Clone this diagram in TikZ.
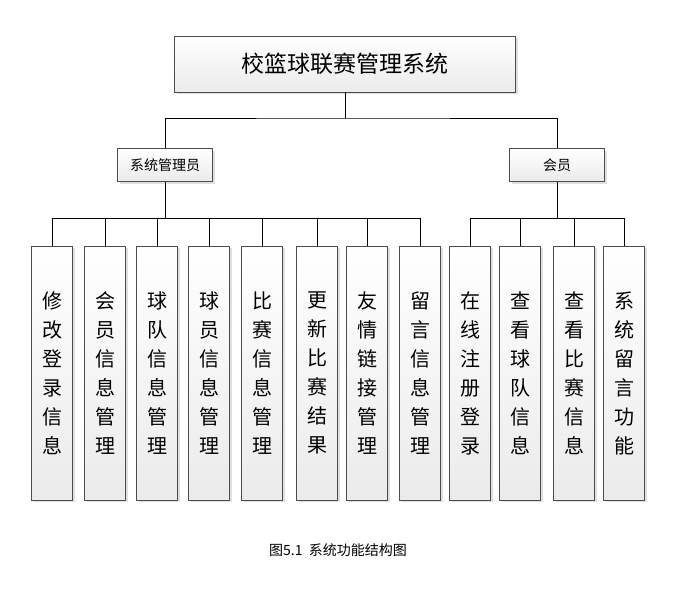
\documentclass[tikz,border=0pt]{standalone}
\usepackage{fontspec}
\setmainfont{Liberation Serif}
\newfontfamily\cjk{Noto Sans CJK SC}
\usetikzlibrary{positioning,shadows}
\begin{document}
\begin{tikzpicture}[x=1pt,y=-1pt,
		box/.style={rectangle,draw=black!70,thick,top color=white,bottom color=black!8,
			drop shadow={shadow xshift=2pt,shadow yshift=-2pt,fill=black!25},font=\cjk},
		leaf/.style={box,minimum width=41pt,minimum height=254pt,inner sep=0pt,
			align=center,font=\cjk\fontsize{20}{29}\selectfont},
		line/.style={black,semithick}]
		\useasboundingbox (0,0) rectangle (675,590);
		
		\node[box,minimum width=341pt,minimum height=56pt,font=\cjk\fontsize{23}{26}\selectfont] (root) at (345,64) {校篮球联赛管理系统};
		\node[box,minimum width=95pt,minimum height=33pt,font=\cjk\fontsize{14}{16}\selectfont] (admin) at (165,165) {系统管理员};
		\node[box,minimum width=95pt,minimum height=33pt,font=\cjk\fontsize{14}{16}\selectfont] (member) at (557,165) {会员};
		
		% leaves
		\foreach \x/\t/\n in {52/修\\改\\登\\录\\信\\息/a1, 105/会\\员\\信\\息\\管\\理/a2,
			157/球\\队\\信\\息\\管\\理/a3, 209/球\\员\\信\\息\\管\\理/a4,
			262/比\\赛\\信\\息\\管\\理/a5, 317/更\\新\\比\\赛\\结\\果/a6,
			367/友\\情\\链\\接\\管\\理/a7, 420/留\\言\\信\\息\\管\\理/a8,
			470/在\\线\\注\\册\\登\\录/b1, 520/查\\看\\球\\队\\信\\息/b2,
			574/查\\看\\比\\赛\\信\\息/b3, 624/系\\统\\留\\言\\功\\能/b4}
		\node[leaf] (\n) at (\x,373) {\t};
		
		\coordinate (top bar) at (345,118);
		\draw[line] (root.south) -- (top bar);
		\draw[line] (admin.north) |- (top bar) -| (member.north);
		\draw[line] (admin.south) -- (165,218);
		\draw[line] (member.south) -- (557,218);
		\draw[line] (a1.north) |- (a8.north |- 0,218) -- (a8.north);
		\draw[line] (b1.north) |- (b4.north |- 0,218) -- (b4.north);
		\foreach \n in {a2,a3,a4,a5,a6,a7,b2,b3}
		\draw[line] (\n.north) -- (\n.north |- 0,218);
		
		\node[font=\cjk\fontsize{14}{16}\selectfont] (caption) at (338,550) {图5.1\ \ 系统功能结构图};
\end{tikzpicture}
\end{document}
